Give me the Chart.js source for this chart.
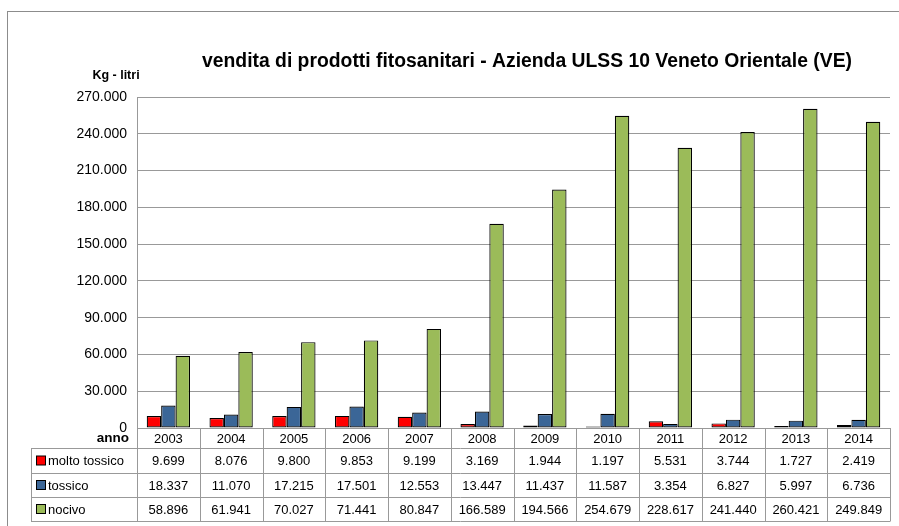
<!DOCTYPE html>
<html>
<head>
<meta charset="utf-8">
<script src="https://cdn.jsdelivr.net/npm/chart.js@4/dist/chart.umd.min.js"></script>
<style>
  body { margin: 0; background: #fff; }
  canvas { display: block; }
</style>
</head>
<body>
<canvas id="fitoChart" width="899" height="526"></canvas>
<script>
// data
const years = ['2003', '2004', '2005', '2006', '2007', '2008', '2009', '2010', '2011', '2012', '2013', '2014'];
const moltoTossico = [9699, 8076, 9800, 9853, 9199, 3169, 1944, 1197, 5531, 3744, 1727, 2419];
const tossico = [18337, 11070, 17215, 17501, 12553, 13447, 11437, 11587, 3354, 6827, 5997, 6736];
const nocivo = [58896, 61941, 70027, 71441, 80847, 166589, 194566, 254679, 228617, 241440, 260421, 249849];
const seriesNames = ['molto tossico', 'tossico', 'nocivo'];

const titleText = 'vendita di prodotti fitosanitari - Azienda ULSS 10 Veneto Orientale (VE)';
const FONT = '"Liberation Sans", Arial, sans-serif';
const GRID = '#999999';

// thousands with a dot, like the original
function fmt(v) {
    return String(v).replace(/\B(?=(\d{3})+(?!\d))/g, '.');
}

const tablePlugin = {
    id: 'dataTable',
    afterDraw(chart) {
        const ctx = chart.ctx;
        const x = chart.scales.x;
        const area = chart.chartArea;
        ctx.save();

        // outer frame
        ctx.strokeStyle = '#8c8c8c';
        ctx.lineWidth = 1;
        ctx.strokeRect(7.5, 11.5, 920, 540);

        // title: narrow font in the original, so squeeze it a little
        ctx.font = 'bold 20px ' + FONT;
        const tw = ctx.measureText(titleText).width;
        const sx = Math.min(1, 650 / tw);
        ctx.save();
        ctx.translate(527, 61);
        ctx.scale(sx, 1);
        ctx.fillStyle = '#000';
        ctx.textAlign = 'center';
        ctx.textBaseline = 'middle';
        ctx.fillText(titleText, 0, 0);
        ctx.restore();

        // axis title
        ctx.fillStyle = '#000';
        ctx.textAlign = 'center';
        ctx.textBaseline = 'middle';
        ctx.font = 'bold 12.5px ' + FONT;
        ctx.fillText('Kg - litri', 116, 76);

        // table grid
        const rows = [area.bottom, 448, 473, 497, 521];
        const step = x.getPixelForValue(1) - x.getPixelForValue(0);
        const left = area.left, right = area.right;
        ctx.strokeStyle = GRID;
        ctx.lineWidth = 1;
        ctx.beginPath();
        ctx.moveTo(left, Math.round(rows[0]) + 0.5);
        ctx.lineTo(right, Math.round(rows[0]) + 0.5);
        for (let r = 1; r < rows.length; r++) {
            ctx.moveTo(31, rows[r] + 0.5);
            ctx.lineTo(right, rows[r] + 0.5);
        }
        for (let i = 0; i <= years.length; i++) {
            const px = Math.round(left + i * step) + 0.5;
            ctx.moveTo(px, rows[0]);
            ctx.lineTo(px, rows[4] + 0.5);
        }
        ctx.moveTo(31.5, rows[1]);
        ctx.lineTo(31.5, rows[4] + 0.5);
        ctx.stroke();

        // header row
        ctx.fillStyle = '#000';
        ctx.font = '13px ' + FONT;
        ctx.textAlign = 'center';
        years.forEach((y, i) => {
            ctx.fillText(y, x.getPixelForValue(i), (rows[0] + rows[1]) / 2 + 1);
        });
        ctx.font = 'bold 13.5px ' + FONT;
        ctx.textAlign = 'right';
        ctx.fillText('anno', 129, 438);

        // series rows
        chart.data.datasets.forEach((ds, r) => {
            const cy = (rows[r + 1] + rows[r + 2]) / 2 + 1;
            ctx.fillStyle = ds.backgroundColor;
            ctx.fillRect(36.5, cy - 5.5, 9, 9);
            ctx.strokeStyle = '#000';
            ctx.strokeRect(36.5, cy - 5.5, 9, 9);
            ctx.fillStyle = '#000';
            ctx.font = '13px ' + FONT;
            ctx.textAlign = 'left';
            ctx.fillText(seriesNames[r], 48, cy);
            ctx.textAlign = 'center';
            ds.data.forEach((v, i) => {
                ctx.fillText(fmt(v), x.getPixelForValue(i), cy);
            });
        });

        ctx.restore();
    }
};

new Chart(document.getElementById('fitoChart'), {
    type: 'bar',
    data: {
        labels: years,
        datasets: [
            { label: seriesNames[0], data: moltoTossico, backgroundColor: '#ff0000' },
            { label: seriesNames[1], data: tossico, backgroundColor: '#3b6697' },
            { label: seriesNames[2], data: nocivo, backgroundColor: '#9bbb59' }
        ].map(d => Object.assign(d, {
            borderColor: '#000',
            borderWidth: 1.2,
            borderSkipped: false,
            categoryPercentage: 0.69,
            barPercentage: 1
        }))
    },
    options: {
        responsive: false,
        animation: false,
        layout: { padding: { left: 0, top: 97, right: 9, bottom: 0 } },
        plugins: {
            legend: { display: false },
            title: { display: false },
            tooltip: { enabled: false }
        },
        scales: {
            x: {
                ticks: { display: false },
                grid: { display: false },
                border: { display: false },
                afterFit(scale) { scale.height = 98; }
            },
            y: {
                min: 0,
                max: 270000,
                ticks: {
                    stepSize: 30000,
                    padding: 10,
                    color: '#000',
                    font: { family: FONT, size: 14 },
                    callback: v => fmt(v)
                },
                grid: { color: GRID, drawTicks: false },
                border: { color: GRID },
                afterFit(scale) { scale.width = 137; }
            }
        }
    },
    plugins: [tablePlugin]
});
</script>
</body>
</html>
